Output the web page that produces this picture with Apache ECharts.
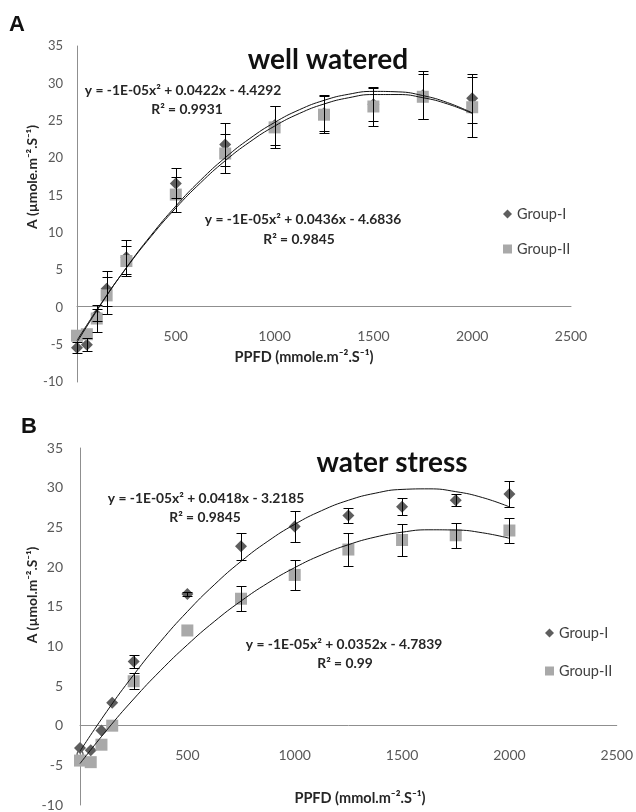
<!DOCTYPE html>
<html>
<head>
<meta charset="utf-8">
<script src="https://cdn.jsdelivr.net/npm/echarts@6/dist/echarts.min.js"></script>
<style>
html,body{margin:0;padding:0;background:#fff;}
#chart{width:636px;height:812px;}
</style>
</head>
<body>
<div id="chart"></div>
<script>
// ---- data ----
const ppfd = [0, 50, 100, 150, 250, 500, 750, 1000, 1250, 1500, 1750, 2000];

// Panel A: well watered
const wwGroup1 = [-5.4, -5.0, -1.0, 2.5, 6.7, 16.6, 21.8, 24.4, 26.0, 27.2, 28.4, 28.0];
const wwGroup2 = [-3.8, -3.6, -1.5, 1.6, 6.2, 15.1, 20.6, 24.1, 25.8, 26.9, 28.2, 26.8];
const wwErr1 = [0.7, 0.9, 0.8, 2.3, 2.3, 2.0, 2.9, 2.6, 2.4, 2.2, 3.2, 3.3];
const wwErr2 = [0.0, 0.0, 1.8, 2.5, 2.0, 2.3, 2.6, 2.8, 2.5, 2.6, 3.0, 4.0];

// Panel B: water stress
const wsGroup1 = [-2.8, -3.1, -0.6, 2.9, 8.1, 16.6, 22.6, 25.1, 26.5, 27.6, 28.4, 29.2];
const wsGroup2 = [-4.4, -4.6, -2.4, 0.0, 5.6, 12.0, 16.0, 19.0, 22.2, 23.4, 24.0, 24.6];
const wsErr1 = [0, 0, 0, 0, 0.8, 0.3, 1.7, 1.9, 0.9, 1.05, 0.75, 1.6];
const wsErr2 = [0, 0, 0, 0, 1.0, 0, 1.6, 1.85, 2.05, 2.05, 1.55, 1.6];

// Polynomial trend lines
const fitX = [0, 125, 250, 375, 500, 625, 750, 875, 1000, 1125, 1250, 1375, 1500, 1625, 1750, 1875, 2000];
const wwFit1 = [-4.43, 0.63, 5.28, 9.50, 13.30, 16.67, 19.63, 22.16, 24.27, 25.96, 27.23, 28.07, 28.50, 28.50, 28.08, 27.24, 25.97];
const wwFit2 = [-4.68, 0.55, 5.32, 9.66, 13.56, 17.02, 20.04, 22.62, 24.76, 26.46, 27.72, 28.54, 28.92, 28.86, 28.36, 27.42, 26.04];
const wsFit1 = [-3.22, 1.80, 6.41, 10.60, 14.38, 17.75, 20.71, 23.25, 25.38, 27.10, 28.41, 29.30, 29.78, 29.85, 29.50, 28.75, 27.58];
const wsFit2 = [-4.78, -0.55, 3.36, 6.94, 10.19, 13.12, 15.71, 17.98, 19.92, 21.53, 22.81, 23.77, 24.39, 24.69, 24.66, 24.31, 23.62];

const xTicks = [0, 500, 1000, 1500, 2000, 2500];
const yTicks = [-10, -5, 0, 5, 10, 15, 20, 25, 30, 35];

const groupNames = ['Group-I', 'Group-II'];
const panelTitles = ['well watered', 'water stress'];
const panelLetters = ['A', 'B'];
const eqA1 = ['y = -1E-05x\u00B2 + 0.0422x - 4.4292', 'R\u00B2 = 0.9931'];
const eqA2 = ['y = -1E-05x\u00B2 + 0.0436x - 4.6836', 'R\u00B2 = 0.9845'];
const eqB1 = ['y = -1E-05x\u00B2 + 0.0418x - 3.2185', 'R\u00B2 = 0.9845'];
const eqB2 = ['y = -1E-05x\u00B2 + 0.0352x - 4.7839', 'R\u00B2 = 0.99'];
const xNames = ['PPFD (mmole.m\u207B\u00B2.S\u207B\u00B9)', 'PPFD (mmol.m\u207B\u00B2.S\u207B\u00B9)'];
const yNames = ['A (\u00B5mole.m\u207B\u00B2.S\u207B\u00B9)', 'A (\u00B5mol.m\u207B\u00B2.S\u207B\u00B9)'];

// ---- build ----
const FONT = 'Lato';
const C1 = '#5e5e5e', C2 = '#a9a9a9';

function pairs(xs, ys) { return xs.map((x, i) => [x, ys[i]]); }
function errData(xs, ys, es) {
  const out = [];
  xs.forEach((x, i) => { if (es[i] > 0) out.push([x, ys[i] - es[i], ys[i] + es[i]]); });
  return out;
}
function errRender(params, api) {
  const x = api.value(0), lo = api.value(1), hi = api.value(2);
  const p1 = api.coord([x, hi]), p2 = api.coord([x, lo]);
  const cx = Math.round(p1[0]) + 0.5;
  const y1 = Math.round(p1[1]) + 0.5, y2 = Math.round(p2[1]) + 0.5;
  const hw = 5;
  const st = { stroke: '#000', lineWidth: 1 };
  return { type: 'group', children: [
    { type: 'line', shape: { x1: cx, y1: y1, x2: cx, y2: y2 }, style: st },
    { type: 'line', shape: { x1: cx - hw, y1: y1, x2: cx + hw, y2: y1 }, style: st },
    { type: 'line', shape: { x1: cx - hw, y1: y2, x2: cx + hw, y2: y2 }, style: st }
  ]};
}

const grids = [
  { left: 77, top: 46, width: 494, height: 336 },
  { left: 80, top: 448, width: 538, height: 360 }
];

// x axis drawn along y = 0 (offset from grid bottom: negative = upwards)
function xAxisFor(i, margin, offset) {
  return {
    gridIndex: i, type: 'value', min: xTicks[0], max: xTicks[xTicks.length - 1], interval: 500,
    position: 'bottom', offset: offset,
    axisLine: { show: true, onZero: false, lineStyle: { color: '#8f8f8f', width: 1 } },
    axisTick: { show: false }, splitLine: { show: false },
    axisLabel: { margin: margin, color: '#595959', fontFamily: FONT, fontSize: 14,
      formatter: v => String(v) }
  };
}
function yAxisFor(i, margin, size) {
  return {
    gridIndex: i, type: 'value', min: yTicks[0], max: yTicks[yTicks.length - 1], interval: 5,
    axisLine: { show: true, onZero: false, lineStyle: { color: '#8f8f8f', width: 1 } },
    axisTick: { show: false }, splitLine: { show: false },
    axisLabel: { margin: margin, color: '#595959', fontFamily: FONT, fontSize: size,
      formatter: v => String(v) }
  };
}

function panelSeries(i, g1, g2, e1, e2, f1, f2) {
  return [
    { name: groupNames[0], type: 'scatter', xAxisIndex: i, yAxisIndex: i, symbol: 'diamond', symbolSize: 12,
      itemStyle: { color: C1, opacity: 1 }, data: pairs(ppfd, g1), z: 3 },
    { name: groupNames[1], type: 'scatter', xAxisIndex: i, yAxisIndex: i, symbol: 'rect', symbolSize: 12,
      itemStyle: { color: C2, opacity: 1 }, data: pairs(ppfd, g2), z: 3 },
    { name: 'fit1-' + i, type: 'line', xAxisIndex: i, yAxisIndex: i, smooth: true, showSymbol: false, symbol: 'none',
      lineStyle: { color: '#111', width: 1 }, data: pairs(fitX, f1), z: 4, silent: true },
    { name: 'fit2-' + i, type: 'line', xAxisIndex: i, yAxisIndex: i, smooth: true, showSymbol: false, symbol: 'none',
      lineStyle: { color: '#111', width: 1 }, data: pairs(fitX, f2), z: 4, silent: true },
    { name: 'err1-' + i, type: 'custom', xAxisIndex: i, yAxisIndex: i, renderItem: errRender,
      encode: { x: 0, y: [1, 2] }, data: errData(ppfd, g1, e1), z: 5, silent: true },
    { name: 'err2-' + i, type: 'custom', xAxisIndex: i, yAxisIndex: i, renderItem: errRender,
      encode: { x: 0, y: [1, 2] }, data: errData(ppfd, g2, e2), z: 5, silent: true }
  ];
}

function txt(text, x, y, size, weight, align, color, rot, family) {
  return { type: 'text', x: x, y: y, rotation: rot || 0, z: 10, silent: true,
    style: { text: text, fontFamily: family || FONT, fontSize: size, fontWeight: weight || 'normal',
      fill: color || '#1a1a1a', align: align || 'center', verticalAlign: 'middle',
      textAlign: align || 'center', textVerticalAlign: 'middle' } };
}

const legendItems = [{ name: groupNames[0], icon: 'diamond' }, { name: groupNames[1], icon: 'rect' }];
function legendFor(left, top, gap) {
  return { left: left, top: top, orient: 'vertical', itemWidth: 9, itemHeight: 9, itemGap: gap,
    data: legendItems, selectedMode: false,
    textStyle: { fontFamily: FONT, fontSize: 14.5, color: '#404040', lineHeight: 16 } };
}

const option = {
  animation: false,
  backgroundColor: '#ffffff',
  grid: grids,
  xAxis: [xAxisFor(0, 23, -76), xAxisFor(1, 23, -80)],
  yAxis: [yAxisFor(0, 14, 13), yAxisFor(1, 17, 14)],
  legend: [legendFor(498, 201, 19), legendFor(540, 620, 22)],
  series: [].concat(
    panelSeries(0, wwGroup1, wwGroup2, wwErr1, wwErr2, wwFit1, wwFit2),
    panelSeries(1, wsGroup1, wsGroup2, wsErr1, wsErr2, wsFit1, wsFit2)
  ),
  graphic: [
    txt(panelLetters[0], 17, 25, 22, 'bold', 'center', '#111', 0, 'Liberation Sans'),
    txt(panelLetters[1], 29, 427, 22, 'bold', 'center', '#111', 0, 'Liberation Sans'),
    txt(panelTitles[0], 328, 60, 28, 'bold', 'center', '#111'),
    txt(panelTitles[1], 392, 463, 28, 'bold', 'center', '#111'),
    txt(eqA1[0], 183, 91, 13.8, 'bold', 'center', '#262626'),
    txt(eqA1[1], 187, 110, 13.8, 'bold', 'center', '#262626'),
    txt(eqA2[0], 303, 220, 13.8, 'bold', 'center', '#262626'),
    txt(eqA2[1], 299, 240, 13.8, 'bold', 'center', '#262626'),
    txt(eqB1[0], 206, 499, 13.8, 'bold', 'center', '#262626'),
    txt(eqB1[1], 205, 518, 13.8, 'bold', 'center', '#262626'),
    txt(eqB2[0], 344, 645, 13.8, 'bold', 'center', '#262626'),
    txt(eqB2[1], 345, 664, 13.8, 'bold', 'center', '#262626'),
    txt(xNames[0], 304, 357, 14.5, 'bold', 'center', '#262626'),
    txt(xNames[1], 360, 798, 14.5, 'bold', 'center', '#262626'),
    txt(yNames[0], 33, 177, 13.8, 'bold', 'center', '#262626', Math.PI / 2),
    txt(yNames[1], 33, 595, 13.8, 'bold', 'center', '#262626', Math.PI / 2)
  ]
};

const chart = echarts.init(document.getElementById('chart'), null, { renderer: 'canvas' });
chart.setOption(option);
</script>
</body>
</html>
